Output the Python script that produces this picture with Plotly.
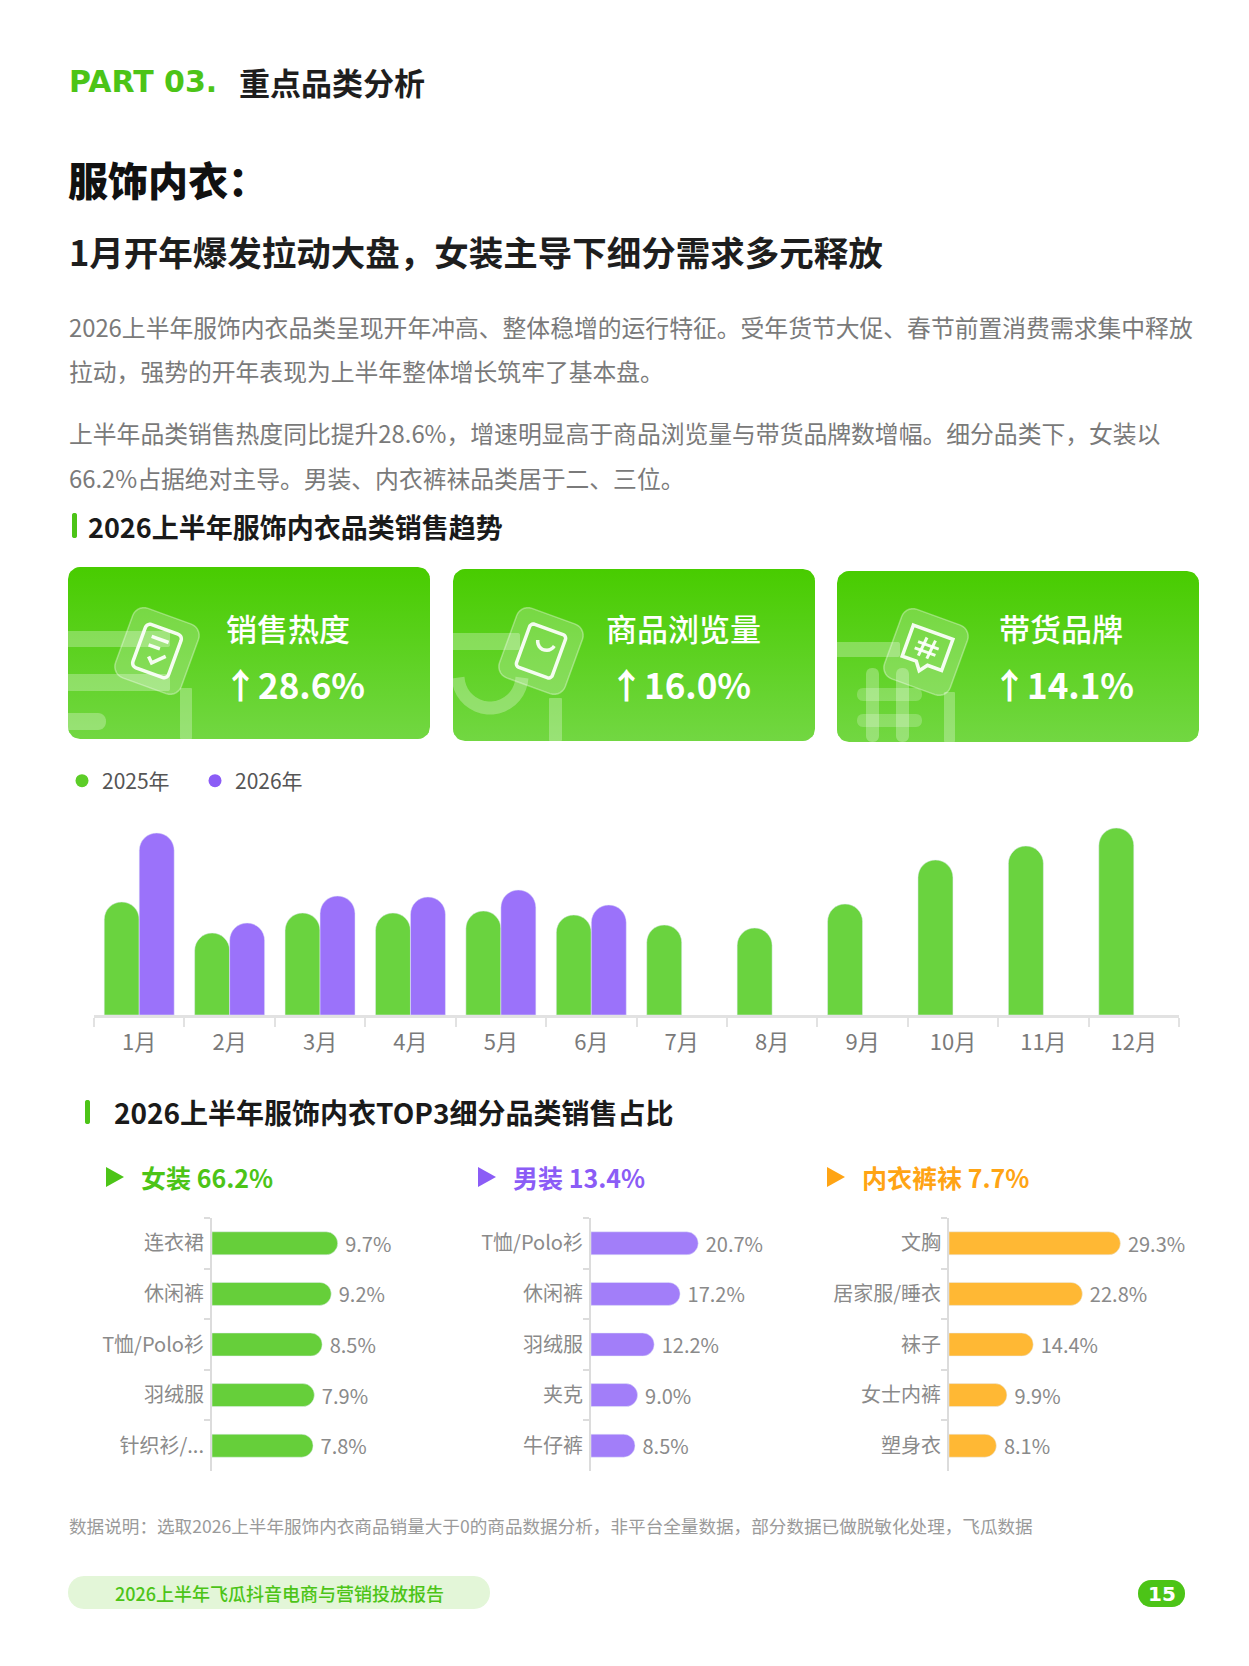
import numpy as np
import plotly.graph_objects as go

W, H = 1249, 1666
CJK = "Noto Sans CJK SC"
GREEN = "#4cc417"

# ---- data ----
months = ["1月", "2月", "3月", "4月", "5月", "6月", "7月", "8月", "9月", "10月", "11月", "12月"]
heat_2025 = [113, 82, 102, 102, 104, 100, 90, 87, 111, 155, 169, 187]
heat_2026 = [182, 92, 119, 118, 125, 110, None, None, None, None, None, None]

kpi_names = ["销售热度", "商品浏览量", "带货品牌"]
kpi_growth = [28.6, 16.0, 14.1]

top3_names = ["女装", "男装", "内衣裤袜"]
top3_share = [66.2, 13.4, 7.7]

women_cats = ["连衣裙", "休闲裤", "T恤/Polo衫", "羽绒服", "针织衫/..."]
women_share = [9.7, 9.2, 8.5, 7.9, 7.8]
men_cats = ["T恤/Polo衫", "休闲裤", "羽绒服", "夹克", "牛仔裤"]
men_share = [20.7, 17.2, 12.2, 9.0, 8.5]
under_cats = ["文胸", "居家服/睡衣", "袜子", "女士内裤", "塑身衣"]
under_share = [29.3, 22.8, 14.4, 9.9, 8.1]

para = [
    "2026上半年服饰内衣品类呈现开年冲高、整体稳增的运行特征。受年货节大促、春节前置消费需求集中释放",
    "拉动，强势的开年表现为上半年整体增长筑牢了基本盘。",
    "上半年品类销售热度同比提升28.6%，增速明显高于商品浏览量与带货品牌数增幅。细分品类下，女装以",
    "66.2%占据绝对主导。男装、内衣裤袜品类居于二、三位。",
]


def fx(x):
    return x / W


def fy(y):
    return 1 - y / H


def rr_pts(x0, y0, x1, y1, r, n=8):
    pts = []
    for cx, cy, a0 in [(x1 - r, y0 + r, -90), (x1 - r, y1 - r, 0), (x0 + r, y1 - r, 90), (x0 + r, y0 + r, 180)]:
        for t in np.linspace(a0, a0 + 90, n):
            pts.append((cx + r * np.cos(np.radians(t)), cy + r * np.sin(np.radians(t))))
    return pts


def rot(pts, cx, cy, ang):
    a = np.radians(ang)
    c, s = np.cos(a), np.sin(a)
    return [(cx + x * c - y * s, cy + x * s + y * c) for x, y in pts]


def path(pts, close=True):
    d = "M" + " L".join(f"{x:.1f},{y:.1f}" for x, y in pts)
    return d + (" Z" if close else "")


fig = go.Figure()
shapes = []
notes = []


def label(x, y, text, size, color, weight=400, family=CJK, anchor="left"):
    notes.append(dict(x=x, y=y, xref="x5", yref="y5", text=text, showarrow=False,
                      xanchor=anchor, yanchor="middle",
                      font=dict(size=size, color=color, family=family, weight=weight)))


def fill_shape(d, color):
    shapes.append(dict(type="path", path=d, xref="x5", yref="y5", fillcolor=color,
                       line=dict(width=0), layer="above"))


def line_shape(d, color, width):
    shapes.append(dict(type="path", path=d, xref="x5", yref="y5", fillcolor="rgba(0,0,0,0)",
                       line=dict(width=width, color=color), layer="above"))


# ---- main monthly bar chart ----
fig.add_trace(go.Bar(x=months, y=heat_2025, name="2025年", showlegend=False,
                     marker=dict(color="#6ad33f", cornerradius="50%"), hoverinfo="skip"))
fig.add_trace(go.Bar(x=months, y=heat_2026, name="2026年", showlegend=False,
                     marker=dict(color="#9b72fa", cornerradius="50%"), hoverinfo="skip"))
fig.add_trace(go.Scatter(x=[None], y=[None], mode="markers", name="2025年",
                         marker=dict(color="#5ccd27", size=13)))
fig.add_trace(go.Scatter(x=[None], y=[None], mode="markers", name="2026年",
                         marker=dict(color="#8b5cf6", size=13)))

# ---- TOP3 sub-category bars ----
small = [
    (women_cats, women_share, "#66cf3a", "2", 212, 12.96),
    (men_cats, men_share, "#a27ef9", "3", 591, 5.18),
    (under_cats, under_share, "#ffb834", "4", 949, 5.85),
]
for cats, vals, col, k, _, _ in small:
    fig.add_trace(go.Bar(x=vals, y=cats, orientation="h", xaxis="x" + k, yaxis="y" + k,
                         width=0.455, marker=dict(color=col, cornerradius="50%"),
                         texttemplate="\u00a0%{x:.1f}%", textposition="outside",
                         constraintext="none",
                         textfont=dict(size=20, color="#8a8a8a"), cliponaxis=False,
                         showlegend=False, hoverinfo="skip"))

# ---- KPI cards ----
cards = [(68, 567, 430, 739), (453, 569, 815, 741), (837, 571, 1199, 742)]
for (x0, y0, x1, y1) in cards:
    pts = rr_pts(x0, y0, x1, y1, 12)
    fig.add_trace(go.Scatter(x=[p[0] for p in pts], y=[p[1] for p in pts], mode="lines",
                             fill="toself", line=dict(width=0), xaxis="x5", yaxis="y5",
                             fillgradient=dict(type="vertical", start=y0, stop=y1,
                                               colorscale=[[0, "#48cc00"], [1, "#72d742"]]),
                             hoverinfo="skip", showlegend=False))

SOFT = "rgba(255,255,255,0.28)"
TILE = "rgba(255,255,255,0.22)"
ICON = "rgba(255,255,255,0.92)"
# card 1 decoration
fill_shape(path(rr_pts(60, 631, 170, 647, 2)), SOFT)
fill_shape(path(rr_pts(60, 674, 170, 691, 2)), SOFT)
fill_shape(path(rr_pts(60, 713, 106, 730, 8)), SOFT)
fill_shape(path(rr_pts(180, 688, 192, 739, 1)), SOFT)
# card 2 decoration
fill_shape(path(rr_pts(445, 633, 520, 650, 2)), SOFT)
arc = [(490 + 32 * np.cos(t), 676 + 32 * np.sin(t)) for t in np.linspace(0.05, np.pi - 0.05, 20)]
line_shape(path(arc[::-1], close=False), SOFT, 13)
fill_shape(path(rr_pts(549, 698, 562, 741, 1)), SOFT)
# card 3 decoration
fill_shape(path(rr_pts(830, 642, 900, 657, 2)), SOFT)
for xa in (866, 896):
    fill_shape(path(rr_pts(xa, 668, xa + 13, 742, 6)), SOFT)
for ya in (688, 714):
    fill_shape(path(rr_pts(857, ya, 922, ya + 13, 6)), "rgba(255,255,255,0.22)")
fill_shape(path(rr_pts(944, 692, 955, 742, 1)), SOFT)

# tiles with icons
for i, (cx, cy) in enumerate([(157, 651), (541, 651), (926, 652)]):
    tile = rot(rr_pts(-35, -37, 35, 37, 12), cx, cy, 20)
    shapes.append(dict(type="path", path=path(tile), xref="x5", yref="y5", fillcolor=TILE,
                       line=dict(width=1.5, color="rgba(255,255,255,0.35)"), layer="above"))
    if i == 0:
        line_shape(path(rot(rr_pts(-19, -23, 19, 23, 5), cx, cy, 20)), ICON, 3.5)
        line_shape(path(rot([(-10, -12), (8, -12)], cx, cy, 20), close=False), ICON, 3.5)
        line_shape(path(rot([(-10, -3), (2, -3)], cx, cy, 20), close=False), ICON, 3.5)
        line_shape(path(rot([(-6, 8), (-1, 13), (10, 2)], cx, cy, 20), close=False), ICON, 3.5)
    elif i == 1:
        line_shape(path(rot(rr_pts(-19, -23, 19, 23, 4), cx, cy, 20)), ICON, 3.5)
        smile = [(2 + 9 * np.cos(t), -11 + 9 * np.sin(t)) for t in np.linspace(0.2, np.pi - 0.2, 12)]
        line_shape(path(rot(smile, cx, cy, 20), close=False), ICON, 3.5)
    else:
        bubble = [(-21, -21), (21, -21), (21, 12), (6, 12), (0, 20), (-6, 12), (-21, 12)]
        line_shape(path(rot(bubble, cx, cy, 20)), ICON, 3.5)
        for a, b in [((-4, -14), (-6, 6)), ((5, -14), (3, 6)), ((-11, -7), (11, -7)), ((-12, 0), (10, 0))]:
            line_shape(path(rot([a, b], cx, cy, 20), close=False), ICON, 3)

for (name, g), tx, vx in zip(zip(kpi_names, kpi_growth), (224, 604, 997), (221, 607, 990)):
    label(tx, 627, name, 31, "white", 500)
    label(vx, 683, f"↑{g:.1f}%", 35, "white", 700)

# ---- page text ----
label(67, 81, "PART 03.", 30, GREEN, 700, "DejaVu Sans")
label(237, 81, "重点品类分析", 31, "#1e1e1e", 700)
label(66, 179, "服饰内衣：", 40, "#111111", 900)
label(67, 251, "1月开年爆发拉动大盘，女装主导下细分需求多元释放", 34.5, "#1e1e1e", 700)
for txt, yy in zip(para, (326, 370, 432, 477)):
    label(67, yy, txt, 23.8, "#7a7a7a")

fill_shape(path(rr_pts(72, 513, 77, 538, 2)), GREEN)
label(86, 526, "2026上半年服饰内衣品类销售趋势", 27, "#1a1a1a", 700)

fill_shape(path(rr_pts(85, 1100, 90, 1124, 2)), GREEN)
label(112, 1112, "2026上半年服饰内衣TOP3细分品类销售占比", 28, "#1a1a1a", 700)

for (name, share), col, tx in zip(zip(top3_names, top3_share), (GREEN, "#8b5cf6", "#ffa414"), (106, 478, 827)):
    fill_shape(f"M{tx},1167 L{tx + 18},1177 L{tx},1187 Z", col)
    label(tx + 33, 1177, f"{name} {share:.1f}%", 25, col, 700)

label(67, 1525, "数据说明：选取2026上半年服饰内衣商品销量大于0的商品数据分析，非平台全量数据，部分数据已做脱敏化处理，飞瓜数据",
      17.6, "#9a9a9a")

fill_shape(path(rr_pts(68, 1576, 490, 1609, 16)), "#e3f6d8")
label(279, 1593, "2026上半年飞瓜抖音电商与营销投放报告", 18, GREEN, 500, anchor="center")
fill_shape(path(rr_pts(1138, 1580, 1185, 1607, 13)), GREEN)
label(1161.5, 1594, "15", 20, "white", 700, "DejaVu Sans", anchor="center")

# ---- layout ----
axes = dict(
    xaxis=dict(domain=[fx(94), fx(1179)], anchor="y", type="category", showline=True,
               linecolor="#e2e2e2", linewidth=3, ticks="outside", tickson="boundaries",
               ticklen=9, tickwidth=2, tickcolor="#e2e2e2", showgrid=False,
               tickfont=dict(size=22, color="#7a7a7a"), ticklabelstandoff=6, fixedrange=True),
    yaxis=dict(domain=[fy(1015), fy(815)], anchor="x", range=[0, 200], visible=False,
               fixedrange=True),
    xaxis5=dict(domain=[0, 1], range=[0, W], anchor="y5", visible=False, fixedrange=True),
    yaxis5=dict(domain=[0, 1], range=[H, 0], anchor="x5", visible=False, fixedrange=True),
)
for cats, vals, col, k, x_line, px_per in small:
    axes["xaxis" + k] = dict(domain=[fx(x_line), fx(x_line + 200)], anchor="y" + k,
                             range=[0, 200 / px_per], visible=False, fixedrange=True)
    axes["yaxis" + k] = dict(domain=[fy(1471), fy(1218)], anchor="x" + k, type="category",
                             autorange="reversed", showline=True, linecolor="#dcdcdc",
                             linewidth=2, ticks="outside", tickson="boundaries", ticklen=6,
                             tickwidth=2, tickcolor="#dcdcdc", showgrid=False,
                             tickfont=dict(size=20, color="#8a8a8a"), ticklabelstandoff=2,
                             fixedrange=True)

fig.update_layout(
    width=W, height=H, margin=dict(l=0, r=0, t=0, b=0),
    paper_bgcolor="white", plot_bgcolor="rgba(0,0,0,0)",
    font=dict(family=CJK, color="#333"),
    barmode="group", bargap=0.226, bargroupgap=0,
    legend=dict(orientation="h", x=fx(62), xanchor="left", y=fy(781), yanchor="middle",
                font=dict(size=21, color="#555"), bgcolor="rgba(0,0,0,0)",
                entrywidth=88, entrywidthmode="pixels"),
    shapes=shapes, annotations=notes, **axes,
)

fig.write_html("out.html", config={"displayModeBar": False},
               post_script="document.body.style.margin='0';")
